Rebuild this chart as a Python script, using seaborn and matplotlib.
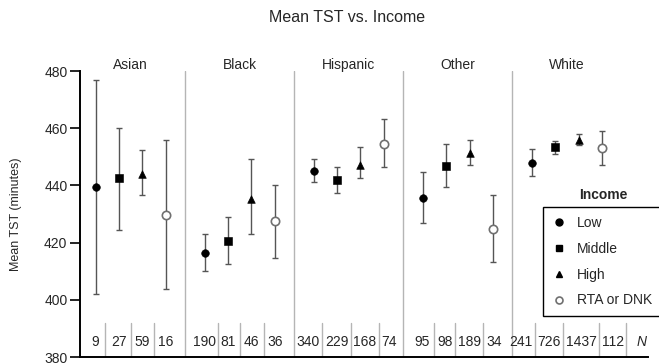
import matplotlib.pyplot as plt
import numpy as np
import pandas as pd
import seaborn as sns
from matplotlib.lines import Line2D

# ── Data ──────────────────────────────────────────────────────────────────────
races = ["Asian", "Black", "Hispanic", "Other", "White"]
incomes = ["Low", "Middle", "High", "RTA or DNK"]

# rows = races, columns = incomes
mean_tst = [
    [439.5, 442.5, 444.0, 429.8],
    [416.5, 420.7, 435.2, 427.4],
    [445.0, 442.0, 447.2, 454.5],
    [435.6, 446.8, 451.2, 424.8],
    [447.7, 453.3, 456.0, 453.0],
]
ci_lower = [
    [402.0, 424.4, 436.7, 403.7],
    [410.2, 412.5, 422.9, 414.6],
    [441.3, 437.4, 442.5, 446.3],
    [426.9, 439.5, 447.1, 413.1],
    [443.3, 451.1, 454.3, 447.0],
]
ci_upper = [
    [476.8, 460.2, 452.5, 456.0],
    [422.9, 429.1, 449.1, 440.3],
    [449.1, 446.5, 453.3, 463.2],
    [444.8, 454.4, 455.9, 436.6],
    [452.6, 455.6, 457.8, 459.0],
]
n_counts = [
    [9, 27, 59, 16],
    [190, 81, 46, 36],
    [340, 229, 168, 74],
    [95, 98, 189, 34],
    [241, 726, 1437, 112],
]

GROUP_STEP = 4.66

rows = []
for g, race in enumerate(races):
    for i, inc in enumerate(incomes):
        rows.append({
            "race": race, "income": inc, "x": g * GROUP_STEP + i,
            "mean": mean_tst[g][i], "lo": ci_lower[g][i],
            "hi": ci_upper[g][i], "n": n_counts[g][i],
        })
df = pd.DataFrame(rows)

# ── Style ─────────────────────────────────────────────────────────────────────
sns.set_style("ticks")
plt.rcParams["font.family"] = ["Liberation Sans", "DejaVu Sans"]

STYLE = {
    "Low":        dict(marker="o", color="black", edgecolor="black", s=30),
    "Middle":     dict(marker="s", color="black", edgecolor="black", s=28),
    "High":       dict(marker="^", color="black", edgecolor="black", s=30),
    "RTA or DNK": dict(marker="o", color="white", edgecolor="#707070", linewidth=1.2, s=36),
}
SEP_COLOR = "#b5b5b5"
ERR_COLOR = "#555555"

fig = plt.figure(figsize=(6.59, 3.64), dpi=100)
ax = fig.add_axes([80 / 659, 1 - 357 / 364, 568 / 659, 286 / 364])

# error bars then markers
ax.errorbar(df["x"], df["mean"],
            yerr=[df["mean"] - df["lo"], df["hi"] - df["mean"]],
            fmt="none", ecolor=ERR_COLOR, elinewidth=1, capsize=2.3,
            capthick=1, zorder=2)
for inc in incomes:
    sub = df[df["income"] == inc]
    sns.scatterplot(data=sub, x="x", y="mean", ax=ax, legend=False,
                    zorder=3, **STYLE[inc])

last_x = (len(races) - 1) * GROUP_STEP + 3
ax.set_xlim(-0.67, last_x + 1.97)
ax.set_ylim(380, 480)

# group separators + labels
for g, race in enumerate(races):
    if g > 0:
        xs = g * GROUP_STEP - (GROUP_STEP - 3) / 2
        ax.plot([xs, xs], [380, 480], color=SEP_COLOR, lw=1, zorder=1)
    ax.text(g * GROUP_STEP + 1.5, 482.2, race, ha="center", va="center",
            fontsize=10, clip_on=False)

# N row: each count under its marker, pushed apart where the text needs room
renderer = fig.canvas.get_renderer()
px_per_unit = ax.transData.transform((1, 0))[0] - ax.transData.transform((0, 0))[0]
pad = 2.5 / px_per_unit
for g in range(len(races)):
    texts = [ax.text(0, 385.3, str(n), ha="center", va="center", fontsize=10)
             for n in n_counts[g]]
    widths = [t.get_window_extent(renderer).width / px_per_unit for t in texts]
    centers = [0.0]
    for k in range(1, len(texts)):
        step = max(1.0, (widths[k - 1] + widths[k]) / 2 + 2 * pad)
        centers.append(centers[-1] + step)
    shift = g * GROUP_STEP + 1.5 - (centers[0] + centers[-1]) / 2
    centers = [c + shift for c in centers]
    for k, t in enumerate(texts):
        t.set_x(centers[k])
        if k < len(texts) - 1:
            right = centers[k] + widths[k] / 2
            left = centers[k + 1] - widths[k + 1] / 2
            xs = (right + left) / 2
        elif g == len(races) - 1:
            xs = centers[k] + widths[k] / 2 + pad
        else:
            continue
        ax.plot([xs, xs], [380, 392], color=SEP_COLOR, lw=1, zorder=1)
ax.text(last_x + 1.7, 385.3, "N", ha="center", va="center", fontsize=10,
        style="italic")

ax.set_xticks([])
ax.set_yticks(np.arange(380, 481, 20))
ax.tick_params(axis="y", length=7, width=1.2, labelsize=10, pad=2, color="black")
ax.set_xlabel("")
ax.set_ylabel("Mean TST (minutes)", fontsize=9)
ax.yaxis.set_label_coords(-58 / 568, 0.5)
sns.despine(ax=ax)
for side in ("left", "bottom"):
    ax.spines[side].set_linewidth(1.4)
    ax.spines[side].set_color("black")

# legend with its title above the frame
handles = []
for inc in incomes:
    st = STYLE[inc]
    handles.append(Line2D([], [], ls="none", marker=st["marker"],
                          markerfacecolor=st["color"],
                          markeredgecolor=st["edgecolor"],
                          markeredgewidth=st.get("linewidth", 1),
                          markersize=5))
leg = fig.legend(handles, incomes, loc="upper left",
                 bbox_to_anchor=(543 / 659, 1 - 207 / 364),
                 frameon=True, fancybox=False, framealpha=1,
                 edgecolor="black", borderaxespad=0, handlelength=1.0,
                 handletextpad=0.8, labelspacing=0.85, fontsize=10,
                 borderpad=0.65)
leg.get_frame().set_linewidth(1)
fig.text(579 / 659, 1 - 195 / 364, "Income", fontweight="bold",
         ha="left", va="center", fontsize=10)

fig.text(0.527, 1 - 18 / 364, "Mean TST vs. Income", ha="center",
         va="center", fontsize=11.5)

fig.savefig("out.png", dpi=100)
